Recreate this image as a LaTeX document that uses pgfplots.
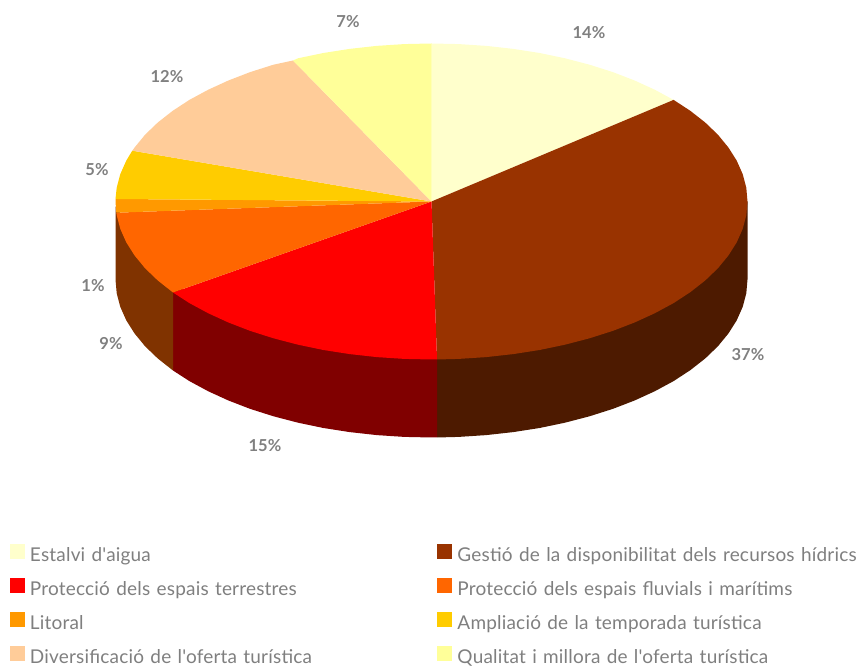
\documentclass[border=0pt]{standalone}
\usepackage{fontspec}
\setmainfont{Lato}[Ligatures=TeXOff,LetterSpace=1]
\usepackage{pgfplots}
\pgfplotsset{compat=1.18}
\definecolor{tx}{HTML}{7F7F7F}
\definecolor{lb}{HTML}{808080}
\begin{document}
\begin{tikzpicture}
\begin{axis}[
  scale only axis, width=860pt, height=666pt,
  xmin=-431.5, xmax=428.5, ymin=-464.5, ymax=201.5,
  hide axis, clip=false,
  legend columns=2,
  legend image code/.code={\path[#1] (0pt,-2pt) rectangle (15pt,13pt);},
  legend cell align=left,
  legend style={
    at={(axis cs:-421.5,-343)}, anchor=north west,
    draw=none, fill=none, inner sep=0pt, outer sep=0pt,
    font=\fontsize{19}{20}\selectfont, text=tx,
    nodes={inner sep=0pt, text width=402.5pt, align=left, text height=13pt, text depth=5pt},
    column sep=5pt, row sep=12pt,
  },
]
% side walls
\addplot[forget plot, draw=none, fill={rgb,255:red,77;green,26;blue,0}] coordinates {
 (316,0)(316,-78)(314.8,-91.8)(311.2,-105.4)(305.2,-118.9)(296.9,-132)(286.4,-144.8)(273.7,-157)(258.9,-168.6)(242.1,-179.6)(223.4,-189.7)(203.1,-199)(181.3,-207.4)(158,-214.8)(133.5,-221.2)(108.1,-226.5)(81.8,-230.6)(54.9,-233.6)(27.5,-235.4)(5.5,-236)(5.5,-150)} -- cycle;
\addplot[forget plot, draw=none, fill={rgb,255:red,128;green,0;blue,0}] coordinates {
 (5.5,-150)(5.5,-236)(0,-236)(-27.5,-235.4)(-54.9,-233.6)(-81.8,-230.6)(-108.1,-226.5)(-133.5,-221.2)(-158,-214.8)(-181.3,-207.4)(-203.1,-199)(-223.4,-189.7)(-242.1,-179.6)(-258.5,-169)(-258.5,-85)} -- cycle;
\addplot[forget plot, draw=none, fill={rgb,255:red,128;green,51;blue,0}] coordinates {
 (-258.5,-85)(-258.5,-169)(-273.7,-157)(-286.4,-144.8)(-296.9,-132)(-305.2,-118.9)(-311.2,-105.4)(-314.8,-91.8)(-316,-78)(-316,-5)} -- cycle;
% top faces
\addplot[draw=none, fill={rgb,255:red,255;green,255;blue,204}] coordinates {
 (0,0)(0,158)(27.5,157.4)(54.9,155.6)(81.8,152.6)(108.1,148.5)(133.5,143.2)(158,136.8)(181.3,129.4)(203.1,121)(223.4,111.7)(242.1,101.6)} -- cycle;
\addplot[draw=none, fill={rgb,255:red,153;green,51;blue,0}] coordinates {
 (0,0)(242.1,101.6)(258.9,90.6)(273.7,79)(286.4,66.8)(296.9,54)(305.2,40.9)(311.2,27.4)(314.8,13.8)(316,0)(314.8,-13.8)(311.2,-27.4)(305.2,-40.9)(296.9,-54)(286.4,-66.8)(273.7,-79)(258.9,-90.6)(242.1,-101.6)(223.4,-111.7)(203.1,-121)(181.3,-129.4)(158,-136.8)(133.5,-143.2)(108.1,-148.5)(81.8,-152.6)(54.9,-155.6)(27.5,-157.4)(5.5,-158)} -- cycle;
\addplot[draw=none, fill={rgb,255:red,255;green,0;blue,0}] coordinates {
 (0,0)(5.5,-158)(0,-158)(-27.5,-157.4)(-54.9,-155.6)(-81.8,-152.6)(-108.1,-148.5)(-133.5,-143.2)(-158,-136.8)(-181.3,-129.4)(-203.1,-121)(-223.4,-111.7)(-242.1,-101.6)(-258.5,-91)} -- cycle;
\addplot[draw=none, fill={rgb,255:red,255;green,102;blue,0}] coordinates {
 (0,0)(-258.5,-91)(-273.7,-79)(-286.4,-66.8)(-296.9,-54)(-305.2,-40.9)(-311.2,-27.4)(-314.8,-13.8)(-315.2,-11.2)} -- cycle;
\addplot[draw=none, fill={rgb,255:red,255;green,153;blue,0}] coordinates {
 (0,0)(-315.2,-11.2)(-316,0)(-316,2.5)} -- cycle;
\addplot[draw=none, fill={rgb,255:red,255;green,204;blue,0}] coordinates {
 (0,0)(-316,2.5)(-314.8,13.8)(-311.2,27.4)(-305.2,40.9)(-299.2,50.8)} -- cycle;
\addplot[draw=none, fill={rgb,255:red,255;green,204;blue,153}] coordinates {
 (0,0)(-299.2,50.8)(-296.9,54)(-286.4,66.8)(-273.7,79)(-258.9,90.6)(-242.1,101.6)(-223.4,111.7)(-203.1,121)(-181.3,129.4)(-158,136.8)(-138.5,141)} -- cycle;
\addplot[draw=none, fill={rgb,255:red,255;green,255;blue,153}] coordinates {
 (0,0)(-138.5,141)(-133.5,143.2)(-108.1,148.5)(-81.8,152.6)(-54.9,155.6)(-27.5,157.4)(0,158)} -- cycle;
\legend{Estalvi d'aigua, Gestió de la disponibilitat dels recursos hídrics, Protecció dels espais terrestres, Protecció dels espais fluvials i marítims, Litoral, Ampliació de la temporada turística, Diversificació de l'oferta turística, Qualitat i millora de l'oferta turística}
\tikzset{lbl/.style={font=\fontsize{16.5}{18}\selectfont\bfseries, text=lb, inner sep=0pt}}
\node[lbl] at (axis cs:157.5,168.5) {14\%};
\node[lbl] at (axis cs:316.5,-153.5) {37\%};
\node[lbl] at (axis cs:-166.5,-244.5) {15\%};
\node[lbl] at (axis cs:-320.5,-142.5) {9\%};
\node[lbl] at (axis cs:-338.5,-84.5) {1\%};
\node[lbl] at (axis cs:-334.5,31.5) {5\%};
\node[lbl] at (axis cs:-264.5,124.5) {12\%};
\node[lbl] at (axis cs:-83.5,179.5) {7\%};
\path (axis cs:-431.5,-464.5) rectangle (axis cs:428.5,201.5);
\end{axis}
\end{tikzpicture}
\end{document}
